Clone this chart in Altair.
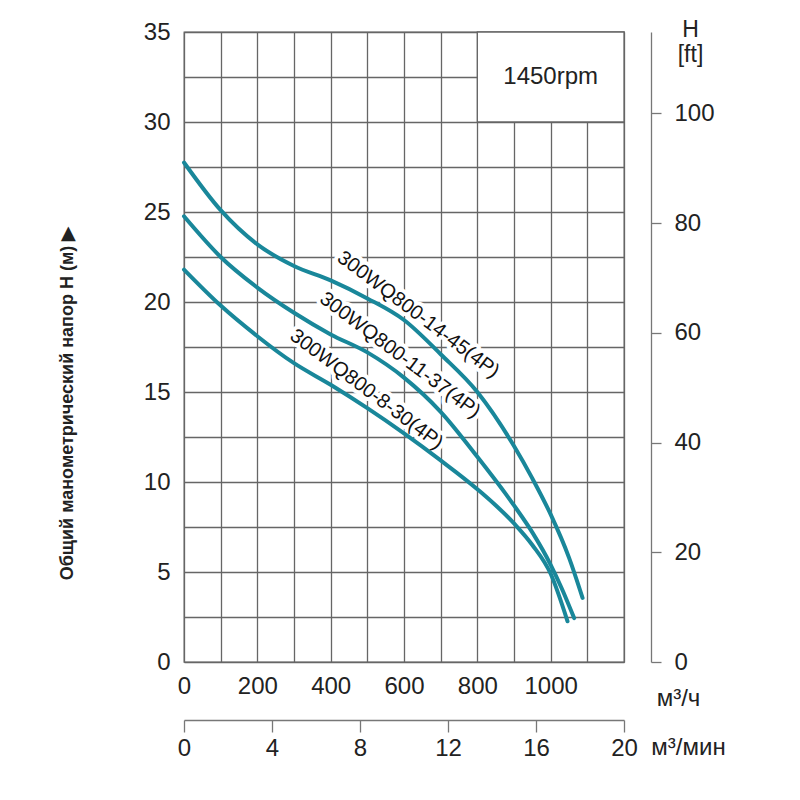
import altair as alt
import pandas as pd

FONT = "Liberation Sans, Arial, Helvetica, sans-serif"
GRID = "#666666"
TEAL = "#19879a"
INK = "#222222"

# --- data (flow m³/h, head m) ---
models = ["300WQ800-14-45(4P)", "300WQ800-11-37(4P)", "300WQ800-8-30(4P)"]
q1 = [0, 100, 200, 300, 400, 500, 600, 700, 800, 900, 950, 1000, 1050, 1087]
h1 = [27.75, 25.1, 23.2, 22.0, 21.2, 20.2, 19.0, 17.1, 15.0, 12.0, 10.2, 8.2, 5.8, 3.56]
q2 = [0, 100, 200, 300, 400, 500, 600, 700, 800, 900, 950, 1000, 1030, 1064]
h2 = [24.76, 22.5, 20.8, 19.4, 18.2, 17.2, 15.8, 13.9, 11.4, 8.7, 7.2, 5.4, 4.1, 2.44]
q3 = [0, 100, 200, 300, 400, 500, 600, 700, 800, 900, 950, 1000, 1046]
h3 = [21.8, 19.8, 18.1, 16.6, 15.4, 14.1, 12.7, 11.2, 9.6, 7.7, 6.5, 4.9, 2.26]

# curve label anchors (data coords)
label_q = [639, 589, 498]
label_h = [19.3, 17.05, 15.15]

# axes
q_max = 1200
h_max = 35
q_ticks = list(range(0, 1201, 100))
h_ticks = [i * 2.5 for i in range(15)]
min_ticks = [0, 4, 8, 12, 16, 20]
ft_ticks = [0, 20, 40, 60, 80, 100]
min_max = 20
ft_max = h_max / 0.3048

# rpm box
box_q = [800, 1200]
box_h = [30, 35]
rpm_text = "1450rpm"

rows = []
for m, qs, hs in zip(models, [q1, q2, q3], [h1, h2, h3]):
    for q, h in zip(qs, hs):
        rows.append({"model": m, "Q": q, "H": h})
curves_df = pd.DataFrame(rows)
labels_df = pd.DataFrame({"model": models, "Q": label_q, "H": label_h})
box_df = pd.DataFrame({"Q": [box_q[0]], "Q2": [box_q[1]], "H": [box_h[0]], "H2": [box_h[1]]})
rpm_df = pd.DataFrame({"Q": [(box_q[0] + box_q[1]) / 2], "H": [(box_h[0] + box_h[1]) / 2], "t": [rpm_text]})
sec_df = pd.DataFrame({"m": [0, min_max], "ft": [0, ft_max]})

xs = alt.Scale(domain=[0, q_max], nice=False, zero=True)
ys = alt.Scale(domain=[0, h_max], nice=False, zero=True)

x_axis = alt.Axis(
    values=q_ticks, format="d",
    labelExpr="datum.value % 200 == 0 && datum.value < 1200 ? datum.label : ''",
    grid=True, gridColor=GRID, gridWidth=1.3,
    domain=False, ticks=False,
    labelFont=FONT, labelFontSize=24, labelColor=INK, labelPadding=12,
    labelFlush=False, labelOverlap=False,
    title="м³/ч", titleFont=FONT, titleFontSize=24, titleFontWeight="normal",
    titleColor=INK, titleAngle=0, titleX=494, titleY=36,
    titleAlign="center", titleBaseline="middle",
)
y_axis = alt.Axis(
    values=h_ticks,
    labelExpr="datum.value % 5 == 0 ? datum.label : ''",
    grid=True, gridColor=GRID, gridWidth=1.3,
    domain=False, ticks=False,
    labelFont=FONT, labelFontSize=24, labelColor=INK, labelPadding=14,
    labelOverlap=False,
    title="Общий манометрический напор H (м) ▶",
    titleFont=FONT, titleFontSize=18, titleFontWeight="bold", titleColor=INK,
    titleAngle=270, titleX=-117, titleY=371,
    titleAlign="center", titleBaseline="middle",
)

X = alt.X("Q:Q", scale=xs, axis=x_axis)
Y = alt.Y("H:Q", scale=ys, axis=y_axis)

box = alt.Chart(box_df).mark_rect(fill="white", stroke=GRID, strokeWidth=1.3).encode(
    x=X, x2="Q2:Q", y=Y, y2="H2:Q"
)
rpm = alt.Chart(rpm_df).mark_text(font=FONT, fontSize=24, color=INK, align="center", baseline="middle").encode(
    x=X, y=Y, text="t:N"
)
halo = alt.Chart(labels_df).mark_text(
    font=FONT, fontSize=20, angle=37, align="center", baseline="middle",
    stroke="white", strokeWidth=8, strokeJoin="round", fill="white",
).encode(x=X, y=Y, text="model:N")
lines = alt.Chart(curves_df).mark_line(
    color=TEAL, strokeWidth=4, interpolate="monotone", strokeCap="round"
).encode(x=X, y=Y, detail="model:N", order="Q:Q")
label = alt.Chart(labels_df).mark_text(
    font=FONT, fontSize=20, angle=37, align="center", baseline="middle", color="#111111",
).encode(x=X, y=Y, text="model:N")

main = alt.layer(box, rpm, halo, lines, label)

sec = alt.Chart(sec_df).mark_point(opacity=0).encode(
    x=alt.X("m:Q", scale=alt.Scale(domain=[0, min_max], nice=False, zero=True),
            axis=alt.Axis(
                orient="bottom", offset=58, values=min_ticks, grid=False, format="d",
                domain=True, domainColor="#777777", domainWidth=1.3,
                ticks=True, tickSize=12, tickColor="#777777", tickWidth=1.3,
                labelFont=FONT, labelFontSize=24, labelColor=INK, labelPadding=4,
                labelFlush=False, labelOverlap=False,
                title="м³/мин", titleFont=FONT, titleFontSize=24, titleFontWeight="normal",
                titleColor=INK, titleAngle=0, titleX=504, titleY=27,
                titleAlign="center", titleBaseline="middle",
            )),
    y=alt.Y("ft:Q", scale=alt.Scale(domain=[0, ft_max], nice=False, zero=True),
            axis=alt.Axis(
                orient="right", offset=27, values=ft_ticks, grid=False, format="d",
                domain=True, domainColor="#777777", domainWidth=1.3,
                ticks=True, tickSize=10, tickColor="#777777", tickWidth=1.3,
                labelFont=FONT, labelFontSize=24, labelColor=INK, labelPadding=13,
                labelOverlap=False,
                title=["H", "[ft]"], titleFont=FONT, titleFontSize=23, titleFontWeight="normal",
                titleColor=INK, titleAngle=0, titleX=39, titleY=4, titleLineHeight=25,
                titleAlign="center", titleBaseline="alphabetic",
            )),
)

chart = alt.layer(main, sec).resolve_scale(x="independent", y="independent").properties(
    width=440, height=630,
    autosize=alt.AutoSizeParams(type="none"),
    padding={"left": 176, "top": 24, "right": 150, "bottom": 110},
    background="white",
).configure_view(stroke=GRID, strokeWidth=1.3)

chart.save("out.html", embed_options={"renderer": "svg", "actions": False})
